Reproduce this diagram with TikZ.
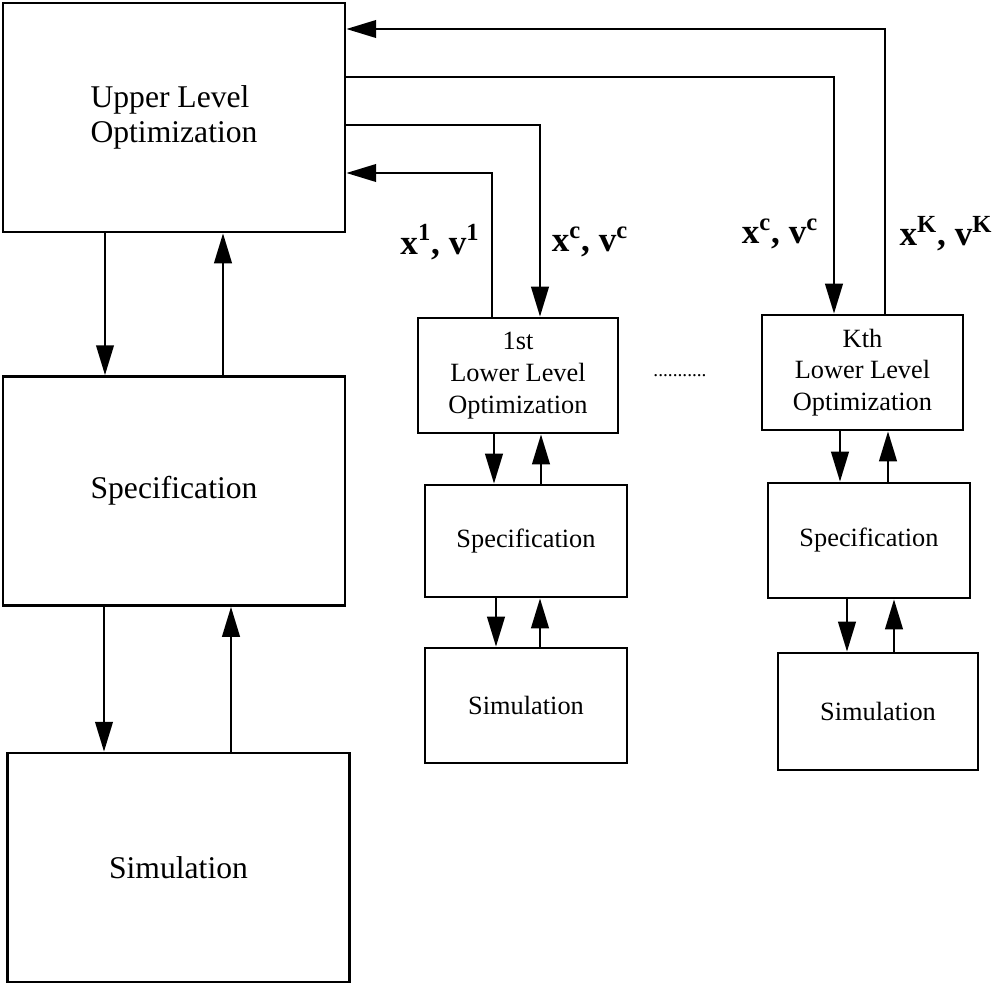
\documentclass[tikz,border=0pt]{standalone}
\usepackage{fontspec}
\setmainfont{Liberation Serif}
\usetikzlibrary{arrows.meta}
\begin{document}
\begin{tikzpicture}[x=0.02cm, y=-0.02cm,
        bigbox/.style={draw, line width=1.6pt, minimum width=6.84cm, minimum height=4.58cm, align=center, font=\fontsize{18}{20}\selectfont},
        smallbox/.style={draw, line width=1.6pt, minimum width=4.02cm, minimum height=2.3cm, align=center, font=\fontsize{15}{18}\selectfont},
        arr/.style={line width=1.3pt, -{Triangle[length=17pt,width=10pt]}},
        lbl/.style={font=\fontsize{20}{20}\selectfont\bfseries}]
        \useasboundingbox (0,0) rectangle (992,984);

        % upper level
        \node[bigbox, align=left] (upper) at (174,117.5) {Upper Level\\Optimization};
        \node[bigbox] (specL) at (174,491) {Specification};
        \node[bigbox] (simL) at (178.5,867.5) {Simulation};

        % first lower level
        \node[smallbox, minimum width=4cm] (low1) at (518,375.5) {1st\\Lower Level\\Optimization};
        \node[smallbox, minimum width=4.04cm, minimum height=2.24cm] (spec1) at (526,541) {Specification};
        \node[smallbox, minimum width=4.04cm] (sim1) at (526,705.5) {Simulation};

        % kth lower level
        \node[smallbox] (lowK) at (862.5,372.5) {Kth\\Lower Level\\Optimization};
        \node[smallbox, minimum width=4.04cm] (specK) at (869,540.5) {Specification};
        \node[smallbox, minimum width=4cm, minimum height=2.34cm] (simK) at (878,711.5) {Simulation};

        \node[anchor=base, font=\fontsize{11}{11}\selectfont] (dots) at (680,376) {...........};

        \node[lbl] (x1) at (440,242) {x\textsuperscript{1}, v\textsuperscript{1}};
        \node[lbl] (xc1) at (590,242) {x\textsuperscript{c}, v\textsuperscript{c}};
        \node[lbl] (xcK) at (780,234) {x\textsuperscript{c}, v\textsuperscript{c}};
        \node[lbl] (xK) at (946,234) {x\textsuperscript{K}, v\textsuperscript{K}};

        \draw[arr] (upper.south -| 105,0) -- (specL.north -| 105,0);
        \draw[arr] (specL.north -| 223,0) -- (upper.south -| 223,0);
        \draw[arr] (specL.south -| 104,0) -- (simL.north -| 104,0);
        \draw[arr] (simL.north -| 231,0) -- (specL.south -| 231,0);

        \draw[arr] (low1.south -| 494,0) -- (spec1.north -| 494,0);
        \draw[arr] (spec1.north -| 541,0) -- (low1.south -| 541,0);
        \draw[arr] (spec1.south -| 496,0) -- (sim1.north -| 496,0);
        \draw[arr] (sim1.north -| 540,0) -- (spec1.south -| 540,0);

        \draw[arr] (lowK.south -| 840,0) -- (specK.north -| 840,0);
        \draw[arr] (specK.north -| 888,0) -- (lowK.south -| 888,0);
        \draw[arr] (specK.south -| 847,0) -- (simK.north -| 847,0);
        \draw[arr] (simK.north -| 894,0) -- (specK.south -| 894,0);

        \draw[arr] (lowK.north -| 885,0) |- (upper.east |- 0,29);
        \draw[arr] (upper.east |- 0,77) -| (lowK.north -| 834,0);
        \draw[arr] (upper.east |- 0,125) -| (low1.north -| 540,0);
        \draw[arr] (low1.north -| 492,0) |- (upper.east |- 0,173);
    \end{tikzpicture}
\end{document}
